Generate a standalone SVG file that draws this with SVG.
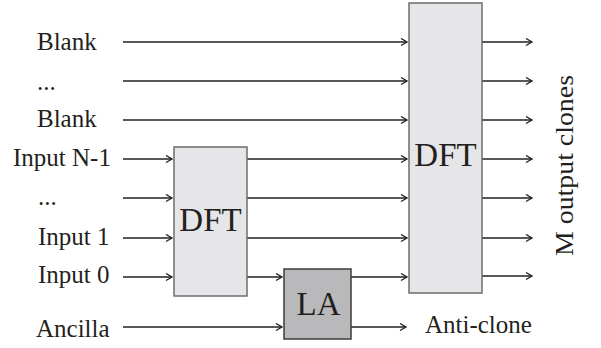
<svg xmlns="http://www.w3.org/2000/svg" width="601" height="348" viewBox="0 0 601 348">
<defs>
<marker id="arr" markerWidth="10" markerHeight="10" refX="7" refY="4" orient="auto" markerUnits="userSpaceOnUse">
<path d="M1,0.5 L7,4 L1,7.5" fill="none" stroke="#231f20" stroke-width="1.3"/>
</marker>
</defs>
<style>
.t{font-family:"Liberation Serif","Times New Roman",serif;font-size:25px;fill:#231f20}
.big{font-family:"Liberation Serif","Times New Roman",serif;font-size:33px;fill:#231f20}
.ln{stroke:#231f20;stroke-width:1.6;fill:none}
.a{marker-end:url(#arr)}
.box{fill:#e6e6e8;stroke:#6d6e71;stroke-width:1.5}
.la{fill:#b9b9bb;stroke:#3d3d3d;stroke-width:1.5}
</style>
<rect width="601" height="348" fill="#ffffff"/>
<g id="labels">
<text class="t" x="37" y="50">Blank</text>
<text class="t" x="37" y="90">...</text>
<text class="t" x="37" y="127">Blank</text>
<text class="t" x="13" y="166">Input N-1</text>
<text class="t" x="38" y="205">...</text>
<text class="t" x="38" y="245">Input 1</text>
<text class="t" x="38" y="283">Input 0</text>
<text class="t" x="36" y="337">Ancilla</text>
</g>
<g id="connectors">
<line class="ln a" x1="123" y1="42" x2="407" y2="42"/>
<line class="ln a" x1="123" y1="81" x2="407" y2="81"/>
<line class="ln a" x1="123" y1="120" x2="407" y2="120"/>
<line class="ln a" x1="123" y1="159" x2="172" y2="159"/>
<line class="ln a" x1="123" y1="198" x2="172" y2="198"/>
<line class="ln a" x1="123" y1="238" x2="172" y2="238"/>
<line class="ln a" x1="123" y1="277" x2="172" y2="277"/>
<line class="ln a" x1="247" y1="159" x2="407" y2="159"/>
<line class="ln a" x1="247" y1="198" x2="407" y2="198"/>
<line class="ln a" x1="247" y1="238" x2="407" y2="238"/>
<line class="ln a" x1="247" y1="277" x2="282" y2="277"/>
<line class="ln a" x1="351" y1="277" x2="407" y2="277"/>
<line class="ln a" x1="123" y1="327" x2="282" y2="327"/>
<line class="ln a" x1="351" y1="327" x2="406" y2="327"/>
<line class="ln a" x1="482" y1="42" x2="532" y2="42"/>
<line class="ln a" x1="482" y1="81" x2="532" y2="81"/>
<line class="ln a" x1="482" y1="120" x2="532" y2="120"/>
<line class="ln a" x1="482" y1="159" x2="532" y2="159"/>
<line class="ln a" x1="482" y1="198" x2="532" y2="198"/>
<line class="ln a" x1="482" y1="238" x2="532" y2="238"/>
<line class="ln a" x1="482" y1="276" x2="532" y2="276"/>
</g>
<g id="dft1">
<rect class="box" x="174" y="147" width="73" height="149"/>
<text class="big" x="210.5" y="231" text-anchor="middle">DFT</text>
</g>
<g id="la">
<rect class="la" x="284" y="269" width="67" height="70"/>
<text class="big" x="318.5" y="315" text-anchor="middle">LA</text>
</g>
<g id="dft2">
<rect class="box" x="409" y="3" width="73" height="290"/>
<text class="big" x="445.5" y="166" text-anchor="middle">DFT</text>
</g>
<g id="outputs">
<text class="t" x="425" y="333">Anti-clone</text>
<text class="t" transform="translate(573,165.5) rotate(-90)" text-anchor="middle" textLength="181" lengthAdjust="spacingAndGlyphs">M output clones</text>
</g>
</svg>
